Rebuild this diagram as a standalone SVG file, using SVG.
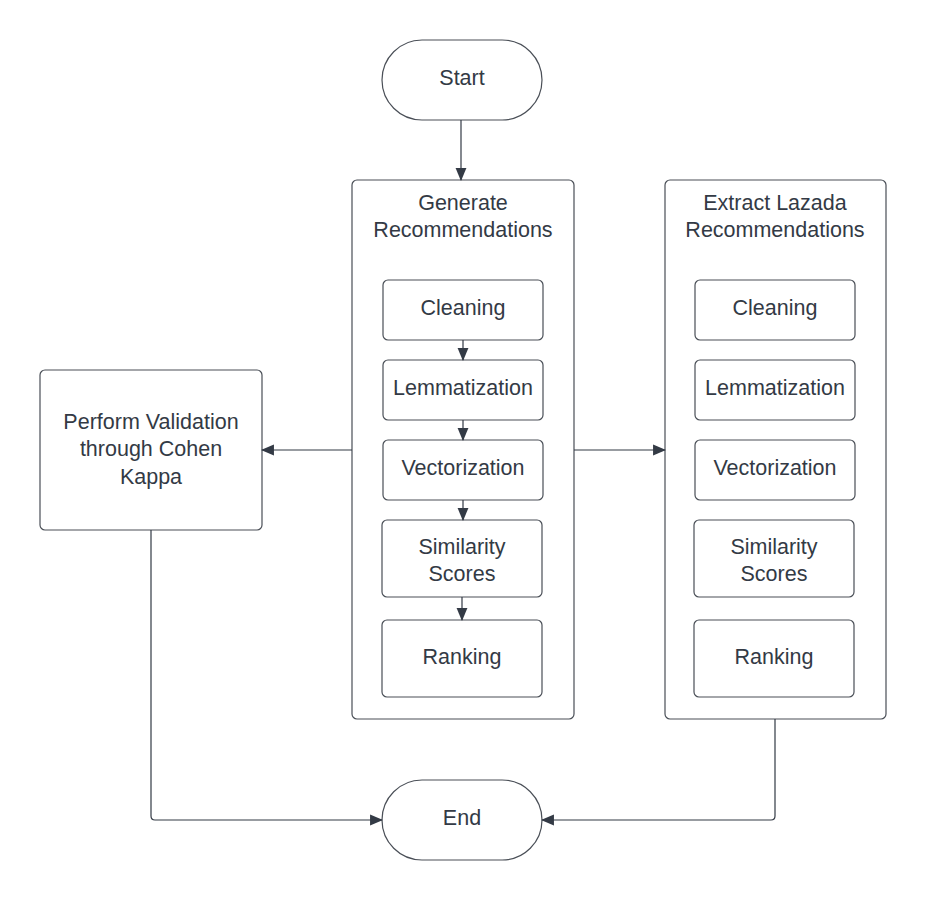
<svg xmlns="http://www.w3.org/2000/svg" width="926" height="900" viewBox="0 0 926 900">
<defs>
<marker id="ah" viewBox="0 0 12 12" refX="11" refY="6" markerWidth="13" markerHeight="13" markerUnits="userSpaceOnUse" orient="auto">
<path d="M0,1 L12,6 L0,11 Z" fill="#333a45"/>
</marker>
<style>
.box{fill:#ffffff;stroke:#4a4f57;stroke-width:1.2}
.t{font-family:"Liberation Sans",Arial,sans-serif;font-size:21.5px;fill:#333a45;text-anchor:middle}
.c{fill:none;stroke:#333a45;stroke-width:1.2}
</style>
</defs>
<rect width="926" height="900" fill="#ffffff"/>
<g id="start"><rect class="box" x="382" y="40" width="160" height="80" rx="40"/><text class="t" x="462" y="85">Start</text></g>
<g id="generate"><rect class="box" x="352" y="180" width="222" height="539" rx="5"/><text class="t" x="463" y="210">Generate</text><text class="t" x="463" y="237">Recommendations</text></g>
<g id="g-cleaning"><rect class="box" x="383" y="280" width="160" height="60" rx="5"/><text class="t" x="463" y="315">Cleaning</text></g>
<g id="g-lemma"><rect class="box" x="383" y="360" width="160" height="60" rx="5"/><text class="t" x="463" y="395">Lemmatization</text></g>
<g id="g-vector"><rect class="box" x="383" y="440" width="160" height="60" rx="5"/><text class="t" x="463" y="475">Vectorization</text></g>
<g id="g-sim"><rect class="box" x="382" y="520" width="160" height="77" rx="5"/><text class="t" x="462" y="554">Similarity</text><text class="t" x="462" y="581">Scores</text></g>
<g id="g-rank"><rect class="box" x="382" y="620" width="160" height="77" rx="5"/><text class="t" x="462" y="664">Ranking</text></g>
<g id="extract"><rect class="box" x="665" y="180" width="221" height="539" rx="5"/><text class="t" x="775" y="210">Extract Lazada</text><text class="t" x="775" y="237">Recommendations</text></g>
<g id="e-cleaning"><rect class="box" x="695" y="280" width="160" height="60" rx="5"/><text class="t" x="775" y="315">Cleaning</text></g>
<g id="e-lemma"><rect class="box" x="695" y="360" width="160" height="60" rx="5"/><text class="t" x="775" y="395">Lemmatization</text></g>
<g id="e-vector"><rect class="box" x="695" y="440" width="160" height="60" rx="5"/><text class="t" x="775" y="475">Vectorization</text></g>
<g id="e-sim"><rect class="box" x="694" y="520" width="160" height="77" rx="5"/><text class="t" x="774" y="554">Similarity</text><text class="t" x="774" y="581">Scores</text></g>
<g id="e-rank"><rect class="box" x="694" y="620" width="160" height="77" rx="5"/><text class="t" x="774" y="664">Ranking</text></g>
<g id="validation"><rect class="box" x="40" y="370" width="222" height="160" rx="5"/><text class="t" x="151" y="429">Perform Validation</text><text class="t" x="151" y="456">through Cohen</text><text class="t" x="151" y="484">Kappa</text></g>
<g id="end"><rect class="box" x="382" y="780" width="160" height="80" rx="40"/><text class="t" x="462" y="825">End</text></g>
<g id="connectors">
<path class="c" d="M461,120 V180" marker-end="url(#ah)"/>
<path class="c" d="M463,340 V360" marker-end="url(#ah)"/>
<path class="c" d="M463,420 V440" marker-end="url(#ah)"/>
<path class="c" d="M463,500 V520" marker-end="url(#ah)"/>
<path class="c" d="M462,597 V620" marker-end="url(#ah)"/>
<path class="c" d="M352,450 H262" marker-end="url(#ah)"/>
<path class="c" d="M574,450 H665" marker-end="url(#ah)"/>
<path class="c" d="M151,530 V816 Q151,820 155,820 H382" marker-end="url(#ah)"/>
<path class="c" d="M775,719 V816 Q775,820 771,820 H542" marker-end="url(#ah)"/>
</g>
</svg>
